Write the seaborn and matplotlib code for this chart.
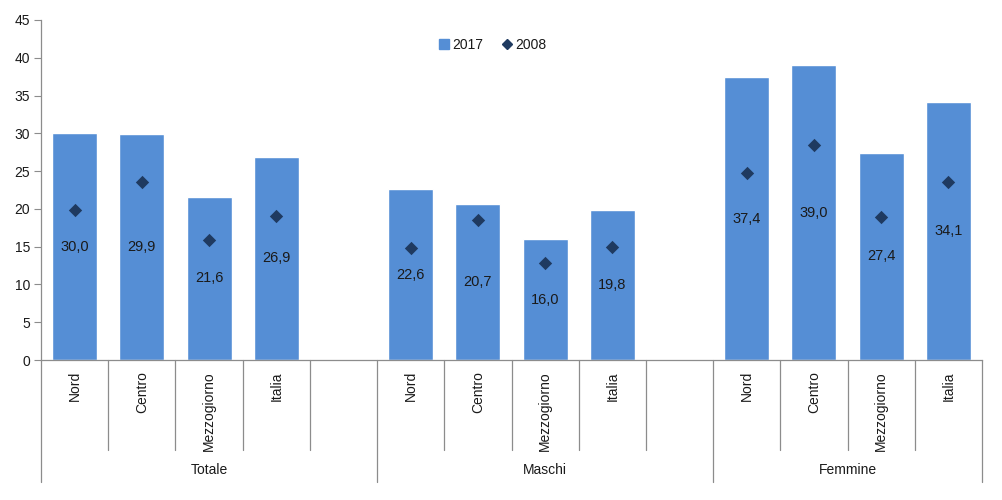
import matplotlib
matplotlib.use("Agg")
import matplotlib.pyplot as plt
import matplotlib.transforms as mtransforms
from matplotlib.lines import Line2D
import seaborn as sns
import pandas as pd

# ---- data ----
groups = ["Totale", "Maschi", "Femmine"]
regions = ["Nord", "Centro", "Mezzogiorno", "Italia"]
v2017_totale = [30.0, 29.9, 21.6, 26.9]
v2017_maschi = [22.6, 20.7, 16.0, 19.8]
v2017_femmine = [37.4, 39.0, 27.4, 34.1]
v2008_totale = [19.8, 23.5, 15.9, 19.1]
v2008_maschi = [14.8, 18.5, 12.9, 14.9]
v2008_femmine = [24.8, 28.5, 18.9, 23.5]
series_names = ["2017", "2008"]
y_ticks = [0, 5, 10, 15, 20, 25, 30, 35, 40, 45]

v2017 = {"Totale": v2017_totale, "Maschi": v2017_maschi, "Femmine": v2017_femmine}
v2008 = {"Totale": v2008_totale, "Maschi": v2008_maschi, "Femmine": v2008_femmine}

rows = []
order = []
for gi, g in enumerate(groups):
    for ri, r in enumerate(regions):
        key = f"{g}|{r}"
        order.append(key)
        rows.append({"key": key, "group": g, "region": r,
                     "v2017": v2017[g][ri], "v2008": v2008[g][ri]})
    if gi < len(groups) - 1:
        order.append(f"{g}|_spacer")
df = pd.DataFrame(rows)

# ---- style ----
sns.set_style("white")
plt.rcParams["font.family"] = ["Liberation Sans", "DejaVu Sans"]
BAR = "#558ED5"
DIA = "#1F3A60"
AX = "#8C8C8C"
TXT = "#1a1a1a"

fig = plt.figure(figsize=(10.02, 5.0), dpi=100)
ax = fig.add_axes([41 / 1002, 1 - 360 / 500, 941 / 1002, 340 / 500])

sns.barplot(data=df, x="key", y="v2017", order=order, color=BAR,
            width=0.67, saturation=1, ax=ax, zorder=2, errorbar=None)
sns.stripplot(data=df, x="key", y="v2008", order=order, color=DIA,
              marker="D", size=6.8, jitter=False, ax=ax, zorder=3,
              linewidth=0)

# value labels for 2017 at the middle of each bar
pos = {k: i for i, k in enumerate(order)}
for _, row in df.iterrows():
    ax.text(pos[row["key"]], row["v2017"] / 2, f"{row['v2017']:.1f}".replace(".", ","),
            ha="center", va="center", fontsize=10.5, color=TXT, zorder=4)

ax.set_xlim(-0.5, len(order) - 0.5)
ax.set_ylim(0, 45)
ax.set_yticks(y_ticks)
ax.set_yticklabels([str(t) for t in y_ticks], fontsize=10, color=TXT)
ax.tick_params(axis="y", length=5, width=0.8, color=AX, pad=3, direction="out", left=True)

# category tick labels
xt = [pos[k] for k in df["key"]]
ax.set_xticks(xt)
ax.set_xticklabels(df["region"], rotation=90, va="top", ha="center", fontsize=10, color=TXT)
ax.tick_params(axis="x", length=0, pad=8)
ax.set_xlabel("")
ax.set_ylabel("")

for s in ["top", "right"]:
    ax.spines[s].set_visible(False)
ax.spines["bottom"].set_color(AX)
ax.spines["left"].set_color(AX)
ax.spines["bottom"].set_linewidth(0.9)
ax.spines["left"].set_linewidth(0.9)

# category axis divider lines
trans = mtransforms.blended_transform_factory(ax.transData, ax.transAxes)
n = len(order)
group_bounds = [-0.5]
idx = 0
for gi, g in enumerate(groups):
    size = len(regions) + (1 if gi < len(groups) - 1 else 0)
    idx += size
    group_bounds.append(idx - 0.5)
inner = [i + 0.5 for i in range(n - 1) if (i + 0.5) not in group_bounds]
for x in inner:
    ax.plot([x, x], [0, -90 / 340], transform=trans, color=AX, lw=0.9, clip_on=False)
for x in group_bounds:
    ax.plot([x, x], [0, -122 / 340], transform=trans, color=AX, lw=0.9, clip_on=False)

# group labels
for gi, g in enumerate(groups):
    c = (group_bounds[gi] + group_bounds[gi + 1]) / 2
    ax.text(c, -110 / 340, g, transform=trans, ha="center", va="center",
            fontsize=10, color=TXT)

# legend
handles = [Line2D([], [], marker="s", color=BAR, linestyle="none", markersize=7),
           Line2D([], [], marker="D", color=DIA, linestyle="none", markersize=5.5)]
ax.legend(handles, series_names, loc="center", bbox_to_anchor=(0.479, 0.926),
          ncol=2, frameon=False, fontsize=10, handletextpad=0.1, columnspacing=1.2,
          handlelength=1.0, labelcolor=TXT)

fig.savefig("out.png", dpi=100)
